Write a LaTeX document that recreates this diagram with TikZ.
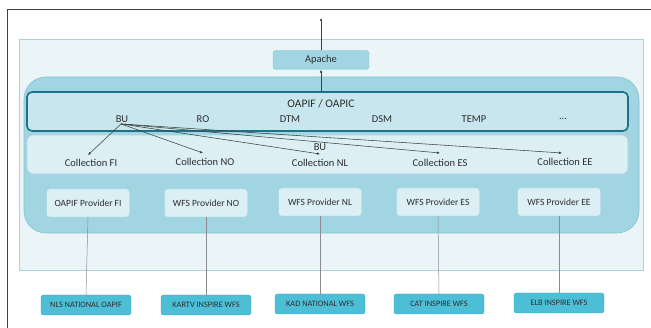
\documentclass[tikz,border=0pt]{standalone}
\usepackage{fontspec}
\setmainfont{Carlito}
\usetikzlibrary{arrows.meta}

\definecolor{bgpale}{HTML}{EBF5F8}
\definecolor{bgline}{HTML}{A8D2DD}
\definecolor{boxmid}{HTML}{A2D5E2}
\definecolor{boxmidline}{HTML}{86C3D3}
\definecolor{apifill}{HTML}{C7E6EE}
\definecolor{apiline}{HTML}{1C7387}
\definecolor{boxlight}{HTML}{DBEFF4}
\definecolor{boxlightline}{HTML}{A9D5E0}
\definecolor{srcfill}{HTML}{4CBFD6}
\definecolor{srcline}{HTML}{3AA6BE}
\definecolor{txt}{HTML}{2E2E2E}

\begin{document}
\begin{tikzpicture}[x=1pt,y=-1pt,
  every node/.style={text=txt},
  lbl/.style={font=\fontsize{10.5}{12}\selectfont},
  provbox/.style={draw=boxlightline, fill=boxlight, rounded corners=3pt,
    minimum width=83pt, minimum height=28pt, font=\fontsize{9.5}{11}\selectfont},
  srcbox/.style={draw=srcline, fill=srcfill, rounded corners=2.5pt,
    minimum width=90pt, minimum height=20pt, font=\fontsize{8.3}{10}\selectfont},
  link/.style={draw=black!45, line width=0.5pt},
  tip/.style={-{Latex[length=3pt,width=2.6pt]}, draw=black!75, line width=0.55pt}]
  \useasboundingbox (0,0) rectangle (651,328);

  % frame
  \draw[black!75, line width=0.8pt] (7,330) -- (7,9) -- (655,9);

  % background area
  \draw[bgline, fill=bgpale, line width=0.6pt] (19,39) rectangle (643,270);

  % server
  \draw[boxmidline, fill=boxmid, line width=0.6pt, rounded corners=22pt] (24,77) rectangle (639,233);
  \draw[boxlightline, fill=boxlight, line width=0.6pt, rounded corners=6pt] (27,135) rectangle (628,174);
  \draw[apiline, fill=apifill, line width=1.6pt, rounded corners=5pt] (27,92) rectangle (628,131);

  \node[draw=boxmidline, fill=boxmid, rounded corners=3pt, minimum width=96pt,
    minimum height=19pt, lbl] (apache) at (321,60) {Apache};
  \coordinate (web) at (321,18);
  \coordinate (api) at (321,92);

  % API layer
  \node[font=\fontsize{11.5}{13}\selectfont] (oapi) at (321,104) {OAPIF / OAPIC};
  \node[lbl] (bu) at (122,119) {BU};
  \node[lbl] (ro) at (203,119) {RO};
  \node[lbl] (dtm) at (290,119) {DTM};
  \node[lbl] (dsm) at (382,119) {DSM};
  \node[lbl] (temp) at (474,119) {TEMP};
  \node[lbl] (more) at (563,119) {...};

  % collections
  \node[lbl] (bunl) at (320,147) {BU};
  \node[lbl] (colfi) at (91,163) {Collection FI};
  \node[lbl] (colno) at (205,162) {Collection NO};
  \node[lbl] (colnl) at (320,163) {Collection NL};
  \node[lbl] (coles) at (440,163) {Collection ES};
  \node[lbl] (colee) at (565,162) {Collection EE};

  % providers
  \node[provbox] (provfi) at (88,203) {OAPIF Provider FI};
  \node[provbox] (provno) at (206,203) {WFS Provider NO};
  \node[provbox] (provnl) at (320,202) {WFS Provider NL};
  \node[provbox] (proves) at (438,202) {WFS Provider ES};
  \node[provbox] (provee) at (559,202) {WFS Provider EE};

  % data sources
  \node[srcbox] (srcfi) at (86,305) {NLS NATIONAL OAPIF};
  \node[srcbox] (srcno) at (206,305) {KARTV INSPIRE WFS};
  \node[srcbox] (srcnl) at (320,304) {KAD NATIONAL WFS};
  \node[srcbox] (srces) at (439,304) {CAT INSPIRE WFS};
  \node[srcbox] (srcee) at (559,303) {ELB INSPIRE WFS};

  % connectors
  \draw[tip] (apache.north) -- (web);
  \draw[tip] (api) -- (apache.south);
  \draw[tip] (bu.south) ++(-1,-2) -- (88,155);
  \draw[tip] (bu.south) ++(-1,-2) -- (203,153);
  \draw[tip] (bu.south) ++(-1,-2) -- (320,154);
  \draw[tip] (bu.south) ++(-1,-2) -- (440,153);
  \draw[tip] (bu.south) ++(-1,-2) -- (562,153);

  \foreach \p/\s in {provfi/srcfi, provno/srcno, provnl/srcnl, proves/srces, provee/srcee}
    \draw[link] (\p.south) -- (\s.north);
\end{tikzpicture}
\end{document}
